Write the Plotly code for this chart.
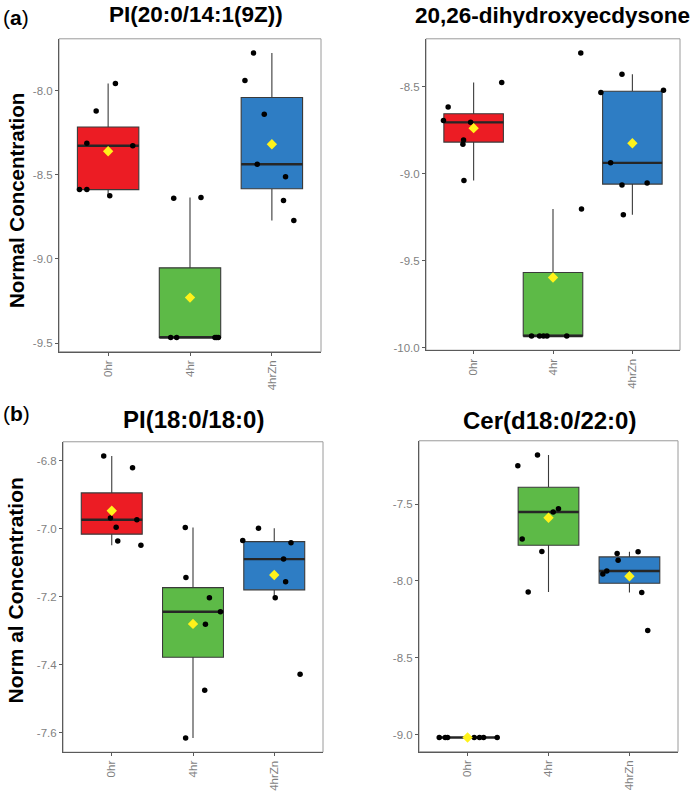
import numpy as np
import plotly.graph_objects as go

W, H = 700, 796

categories = ["0hr", "4hr", "4hrZn"]

# ---- data ----
# (a) left: PI(20:0/14:1(9Z))
a1_0hr = [-7.957, -8.120, -8.312, -8.327, -8.588, -8.588, -8.625]
a1_4hr = [-8.639, -8.635, -9.467, -9.467, -9.467, -9.467, -9.467]
a1_4hrZn = [-7.776, -7.940, -8.140, -8.437, -8.512, -8.653, -8.771]
# (a) right: 20,26-dihydroxyecdysone
a2_0hr = [-8.475, -8.616, -8.693, -8.704, -8.805, -8.830, -9.038]
a2_4hr = [-8.305, -9.202, -9.933, -9.933, -9.933, -9.933, -9.933]
a2_4hrZn = [-8.427, -8.532, -8.519, -8.937, -9.065, -9.053, -9.235]
# (b) left: PI(18:0/18:0)
b1_0hr = [-6.785, -6.820, -6.968, -6.973, -6.995, -7.036, -7.048]
b1_4hr = [-6.996, -7.143, -7.203, -7.244, -7.281, -7.475, -7.616]
b1_4hrZn = [-6.998, -7.034, -7.041, -7.089, -7.156, -7.203, -7.428]
# (b) right: Cer(d18:0/22:0)
b2_0hr = [-9.017, -9.017, -9.017, -9.017, -9.017, -9.017, -9.017]
b2_4hr = [-7.181, -7.252, -7.530, -7.552, -7.728, -7.808, -8.071]
b2_4hrZn = [-7.821, -7.810, -7.866, -7.935, -7.955, -8.075, -8.321]

# horizontal jitter of the points (category units)
jit_a1_0hr = [0.089, -0.146, -0.260, 0.301, -0.350, -0.260, 0.020]
jit_a1_4hr = [-0.199, 0.134, -0.236, -0.163, 0.305, 0.346, 0.325]
jit_a1_4hrZn = [-0.224, -0.329, -0.093, -0.179, 0.167, 0.142, 0.268]
jit_a2_0hr = [0.354, -0.321, -0.380, -0.038, -0.127, -0.135, -0.122]
jit_a2_4hr = [0.350, 0.359, -0.270, -0.169, -0.076, 0.173, -0.120]
jit_a2_4hrZn = [-0.131, -0.397, 0.392, -0.274, -0.131, 0.186, -0.114]
jit_b1_0hr = [-0.099, 0.256, -0.016, 0.309, 0.054, 0.074, 0.359]
jit_b1_4hr = [-0.095, -0.087, 0.202, 0.338, 0.153, 0.144, -0.091]
jit_b1_4hrZn = [-0.194, -0.388, 0.206, 0.115, 0.140, 0.012, 0.318]
jit_b2_0hr = [-0.350, -0.276, -0.247, 0.082, 0.148, 0.198, 0.366]
jit_b2_4hr = [-0.136, -0.379, 0.123, 0.058, -0.325, -0.082, -0.251]
jit_b2_4hrZn = [-0.152, 0.107, -0.140, -0.280, -0.329, 0.152, 0.226]

titles = ["PI(20:0/14:1(9Z))", "20,26-dihydroxyecdysone", "PI(18:0/18:0)", "Cer(d18:0/22:0)"]
ytick_a1 = [-9.5, -9.0, -8.5, -8.0]
ytick_a2 = [-10.0, -9.5, -9.0, -8.5]
ytick_b1 = [-7.6, -7.4, -7.2, -7.0, -6.8]
ytick_b2 = [-9.0, -8.5, -8.0, -7.5]

# ---- styling ----
FONT = "Liberation Sans, Arial, sans-serif"
box_colors = ["#EC1C24", "#5DBA47", "#2E7DC4"]
BOX_WIDTH = 0.75

panels = [
    dict(groups=[a1_0hr, a1_4hr, a1_4hrZn], jit=[jit_a1_0hr, jit_a1_4hr, jit_a1_4hrZn],
         ticks=ytick_a1, px=(59, 321), py=(39, 353.5)),
    dict(groups=[a2_0hr, a2_4hr, a2_4hrZn], jit=[jit_a2_0hr, jit_a2_4hr, jit_a2_4hrZn],
         ticks=ytick_a2, px=(426, 680), py=(39, 352)),
    dict(groups=[b1_0hr, b1_4hr, b1_4hrZn], jit=[jit_b1_0hr, jit_b1_4hr, jit_b1_4hrZn],
         ticks=ytick_b1, px=(63, 323), py=(444, 756)),
    dict(groups=[b2_0hr, b2_4hr, b2_4hrZn], jit=[jit_b2_0hr, jit_b2_4hr, jit_b2_4hrZn],
         ticks=ytick_b2, px=(419, 678), py=(443, 755.5)),
]


def px_x(v):
    return v / W


def px_y(v):
    return 1 - v / H


fig = go.Figure()
layout_axes = {}
shapes = []

for p_i, p in enumerate(panels):
    n = "" if p_i == 0 else str(p_i + 1)
    xa, ya = "x" + n, "y" + n
    allv = np.concatenate([np.asarray(g, float) for g in p["groups"]])
    lo, hi = allv.min(), allv.max()
    pad = 0.05 * (hi - lo)

    # boxes
    for c_i, g in enumerate(p["groups"]):
        v = np.asarray(g, float)
        q1, med, q3 = np.quantile(v, [0.25, 0.5, 0.75])
        iqr = q3 - q1
        lf = v[v >= q1 - 1.5 * iqr].min()
        uf = v[v <= q3 + 1.5 * iqr].max()
        fig.add_trace(go.Box(
            x=[c_i], q1=[q1], median=[med], q3=[q3], lowerfence=[lf], upperfence=[uf],
            width=BOX_WIDTH, whiskerwidth=0, fillcolor=box_colors[c_i],
            line=dict(color="#3a3a3a", width=1.1), boxpoints=False,
            xaxis=xa, yaxis=ya, showlegend=False, hoverinfo="skip"))
        # thicker median bar
        fig.add_trace(go.Scatter(
            x=[c_i - BOX_WIDTH / 2, c_i + BOX_WIDTH / 2], y=[med, med], mode="lines",
            line=dict(color="#262626", width=2.4), xaxis=xa, yaxis=ya,
            showlegend=False, hoverinfo="skip"))
    # jittered points
    for c_i, g in enumerate(p["groups"]):
        fig.add_trace(go.Scatter(
            x=[c_i + j for j in p["jit"][c_i]], y=g, mode="markers",
            marker=dict(color="black", size=5.5), xaxis=xa, yaxis=ya,
            showlegend=False, hoverinfo="skip"))
    # means
    for c_i, g in enumerate(p["groups"]):
        fig.add_trace(go.Scatter(
            x=[c_i], y=[float(np.mean(g))], mode="markers",
            marker=dict(color="#FFF21A", size=8, symbol="diamond", line=dict(width=0)),
            xaxis=xa, yaxis=ya, showlegend=False, hoverinfo="skip"))

    common = dict(showgrid=False, zeroline=False, showline=True, linecolor="#5a5a5a",
                  linewidth=1, ticks="outside", ticklen=3, tickwidth=1, tickcolor="#5a5a5a",
                  tickfont=dict(family=FONT, size=11.5, color="#7f7f7f"))
    layout_axes["xaxis" + n] = dict(
        domain=[px_x(p["px"][0]), px_x(p["px"][1])], range=[-0.6, 2.6],
        tickmode="array", tickvals=[0, 1, 2], ticktext=categories, tickangle=-90,
        anchor=ya, **common)
    layout_axes["yaxis" + n] = dict(
        domain=[px_y(p["py"][1]), px_y(p["py"][0])], range=[lo - pad, hi + pad],
        tickmode="array", tickvals=p["ticks"], ticktext=[f"{t:.1f}" for t in p["ticks"]],
        anchor=xa, **common)
    shapes.append(dict(type="rect", xref=xa + " domain", yref=ya + " domain",
                       x0=0, x1=1, y0=0, y1=1, line=dict(color="#9a9a9a", width=1),
                       layer="below"))

annotations = []


def ann(text, x, y, size, angle=0, xanchor="center"):
    annotations.append(dict(text=text, x=px_x(x), y=px_y(y), xref="paper", yref="paper",
                            showarrow=False, xanchor=xanchor, yanchor="middle",
                            textangle=angle, font=dict(family=FONT, size=size, color="black")))


ann("(<b>a</b>)", 1, 18, 21, xanchor="left")
ann("(<b>b</b>)", 1, 416, 21, xanchor="left")
ann("<b>" + titles[0] + "</b>", 196, 15, 22.5)
ann("<b>" + titles[1] + "</b>", 552.5, 16, 22.5)
ann("<b>" + titles[2] + "</b>", 193.5, 422, 24)
ann("<b>" + titles[3] + "</b>", 549.5, 423, 24)
ann("<b>Normal Concentration</b>", 17, 202, 20.5, angle=-90)
ann("<b>Norm al Concentration</b>", 16, 593.5, 21, angle=-90)

fig.update_layout(width=W, height=H, margin=dict(l=0, r=0, t=0, b=0),
                  paper_bgcolor="white", plot_bgcolor="white",
                  shapes=shapes, annotations=annotations, **layout_axes)

fig.write_html("out.html")
